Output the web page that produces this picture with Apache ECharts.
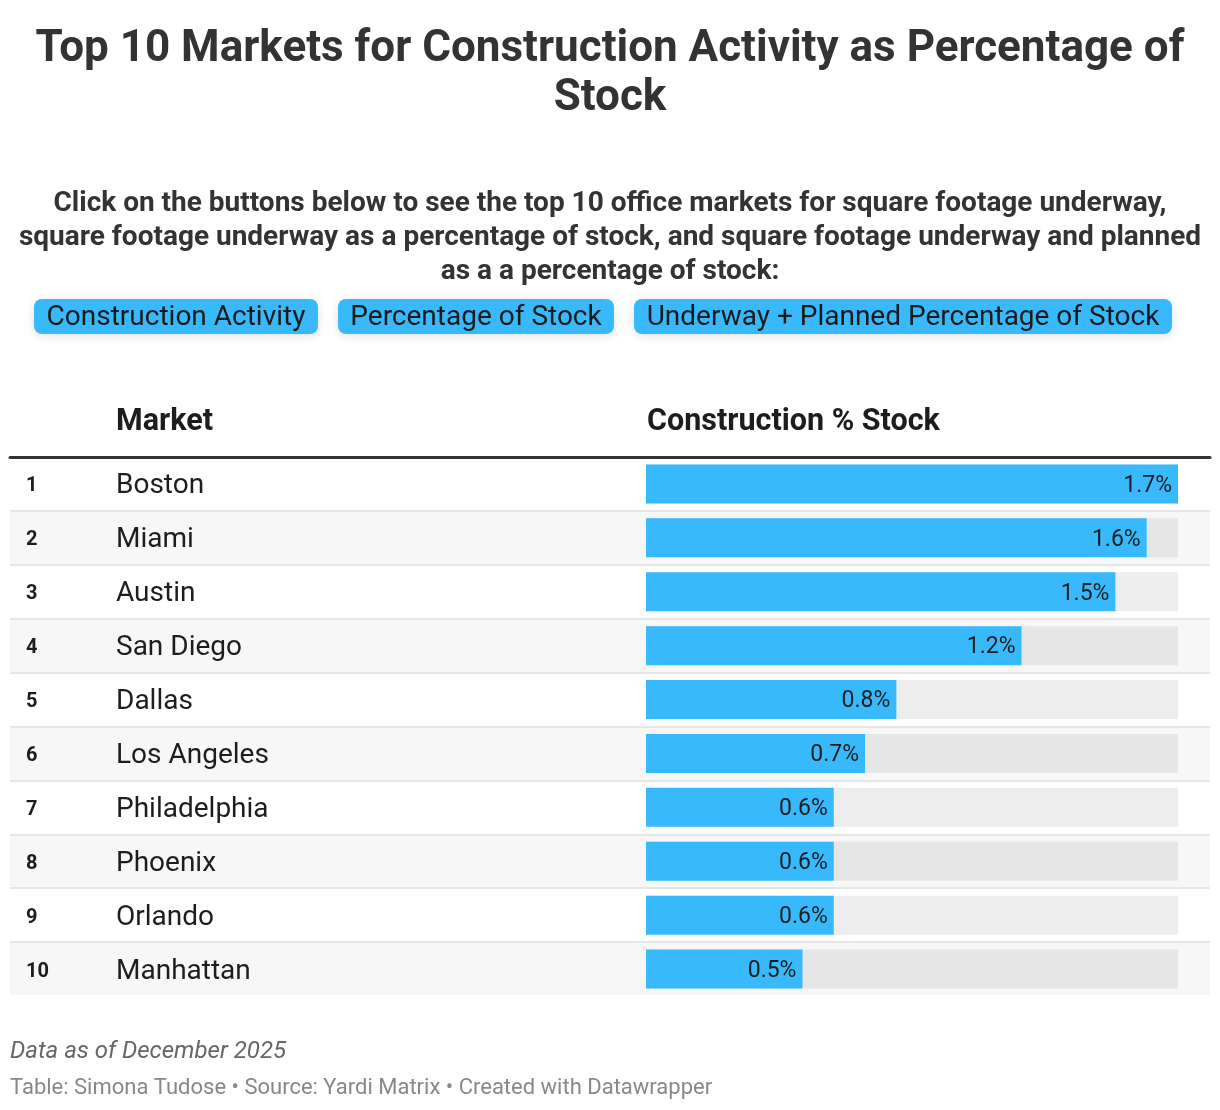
<!DOCTYPE html>
<html>
<head>
<meta charset="utf-8">
<script src="https://cdn.jsdelivr.net/npm/echarts@6/dist/echarts.min.js"></script>
<style>
html,body{margin:0;padding:0;background:#fff;}
#chart{width:1220px;height:1110px;}
</style>
</head>
<body>
<div id="chart"></div>
<script>
const titleText = 'Top 10 Markets for Construction Activity as Percentage of\nStock';
const subtitleText = 'Click on the buttons below to see the top 10 office markets for square footage underway,\nsquare footage underway as a percentage of stock, and square footage underway and planned\nas a a percentage of stock:';
const buttonLabels = ['Construction Activity', 'Percentage of Stock', 'Underway + Planned Percentage of Stock'];
const columnHeaders = ['Market', 'Construction % Stock'];
const ranks = [1, 2, 3, 4, 5, 6, 7, 8, 9, 10];
const markets = ['Boston', 'Miami', 'Austin', 'San Diego', 'Dallas', 'Los Angeles', 'Philadelphia', 'Phoenix', 'Orlando', 'Manhattan'];
const pctStock = [1.7, 1.6, 1.5, 1.2, 0.8, 0.7, 0.6, 0.6, 0.6, 0.5];
const noteText = 'Data as of December 2025';
const sourceText = 'Table: Simona Tudose • Source: Yardi Matrix • Created with Datawrapper';

const FONT = 'Roboto, "Noto Sans", sans-serif';
const BLUE = '#37b9fc';
const maxVal = Math.max(...pctStock);

const chart = echarts.init(document.getElementById('chart'), null, {renderer: 'canvas'});

const btnGeom = [[34, 284], [338, 276], [634, 538]];
const buttons = buttonLabels.map((t, i) => ({
  type: 'group',
  children: [
    {type: 'rect', shape: {x: btnGeom[i][0], y: 299, width: btnGeom[i][1], height: 35, r: 8},
     style: {fill: BLUE, shadowBlur: 10, shadowColor: 'rgba(0,0,0,0.12)', shadowOffsetY: 2}},
    {type: 'text', style: {x: btnGeom[i][0] + btnGeom[i][1] / 2, y: 318, text: t, textAlign: 'center', textVerticalAlign: 'middle',
      font: '400 28px ' + FONT, fill: '#1a1a1a'}}
  ]
}));

const option = {
  backgroundColor: '#ffffff',
  animation: false,
  title: [
    {text: noteText, left: 10, top: 1040, padding: 0,
     textStyle: {fontFamily: FONT, fontSize: 24, fontStyle: 'italic', fontWeight: 'normal', color: '#666666'}},
    {text: sourceText, left: 10, top: 1077, padding: 0,
     textStyle: {fontFamily: FONT, fontSize: 22, fontWeight: 'normal', color: '#888888'}}
  ],
  graphic: [
    {type: 'text', style: {x: 610, y: 25, text: titleText, textAlign: 'center', textVerticalAlign: 'top',
      font: 'bold 44px ' + FONT, lineHeight: 49, fill: '#333333'}},
    {type: 'text', style: {x: 610, y: 187, text: subtitleText, textAlign: 'center', textVerticalAlign: 'top',
      font: 'bold 28px ' + FONT, lineHeight: 34, fill: '#333333'}},
    ...buttons,
    {type: 'text', style: {x: 116, y: 422, text: columnHeaders[0], textVerticalAlign: 'middle', font: 'bold 30.5px ' + FONT, fill: '#1d1d1d'}},
    {type: 'text', style: {x: 647, y: 422, text: columnHeaders[1], textVerticalAlign: 'middle', font: 'bold 30.5px ' + FONT, fill: '#1d1d1d'}}
  ],
  grid: [
    {left: 10, width: 1200, top: 457, height: 539, containLabel: false},
    {left: 646, width: 532, top: 457, height: 539, containLabel: false}
  ],
  xAxis: [
    {gridIndex: 0, type: 'value', position: 'top', min: 0, max: 1, z: 4,
     axisLine: {show: true, onZero: false, lineStyle: {color: '#333333', width: 3}},
     axisTick: {show: false}, axisLabel: {show: false}, splitLine: {show: false}},
    {gridIndex: 1, type: 'value', min: 0, max: maxVal, show: false},
    {gridIndex: 0, type: 'value', position: 'bottom', min: 0, max: 1, z: 4,
     axisLine: {show: true, onZero: false, lineStyle: {color: '#ffffff', width: 3}},
     axisTick: {show: false}, axisLabel: {show: false}, splitLine: {show: false}}
  ],
  yAxis: [
    {gridIndex: 0, type: 'category', inverse: true, data: markets,
     axisLine: {show: false}, axisTick: {show: false}, axisLabel: {show: false},
     splitArea: {show: true, areaStyle: {color: ['#ffffff', '#f7f7f7']}},
     splitLine: {show: true, lineStyle: {color: '#e6e6e6', width: 2}}},
    {gridIndex: 1, type: 'category', inverse: true, data: markets, z: 5,
     axisLine: {show: false}, axisTick: {show: false},
     axisLabel: {
       show: true, align: 'left', margin: 620,
       formatter: (v, i) => '{r|' + ranks[i] + '}{n|' + v + '}',
       rich: {
         r: {fontFamily: FONT, fontSize: 20, fontWeight: 'bold', color: '#1d1d1d', width: 90, padding: [5, 0, 0, 0]},
         n: {fontFamily: FONT, fontSize: 28, color: '#1d1d1d', padding: [5, 0, 0, 0]}
       }
     }}
  ],
  series: [
    {type: 'bar', xAxisIndex: 1, yAxisIndex: 1, barWidth: 39, silent: true,
     data: pctStock.map(() => maxVal),
     itemStyle: {color: p => (p.dataIndex % 2 ? '#e6e6e6' : '#ededed')}},
    {type: 'bar', xAxisIndex: 1, yAxisIndex: 1, barWidth: 39, barGap: '-100%',
     data: pctStock, itemStyle: {color: BLUE},
     label: {show: true, position: 'insideRight', distance: 6, offset: [0, 2], formatter: p => p.value + '%',
       fontFamily: FONT, fontSize: 23, color: '#1d1d1d'}}
  ]
};
chart.setOption(option);
</script>
</body>
</html>
